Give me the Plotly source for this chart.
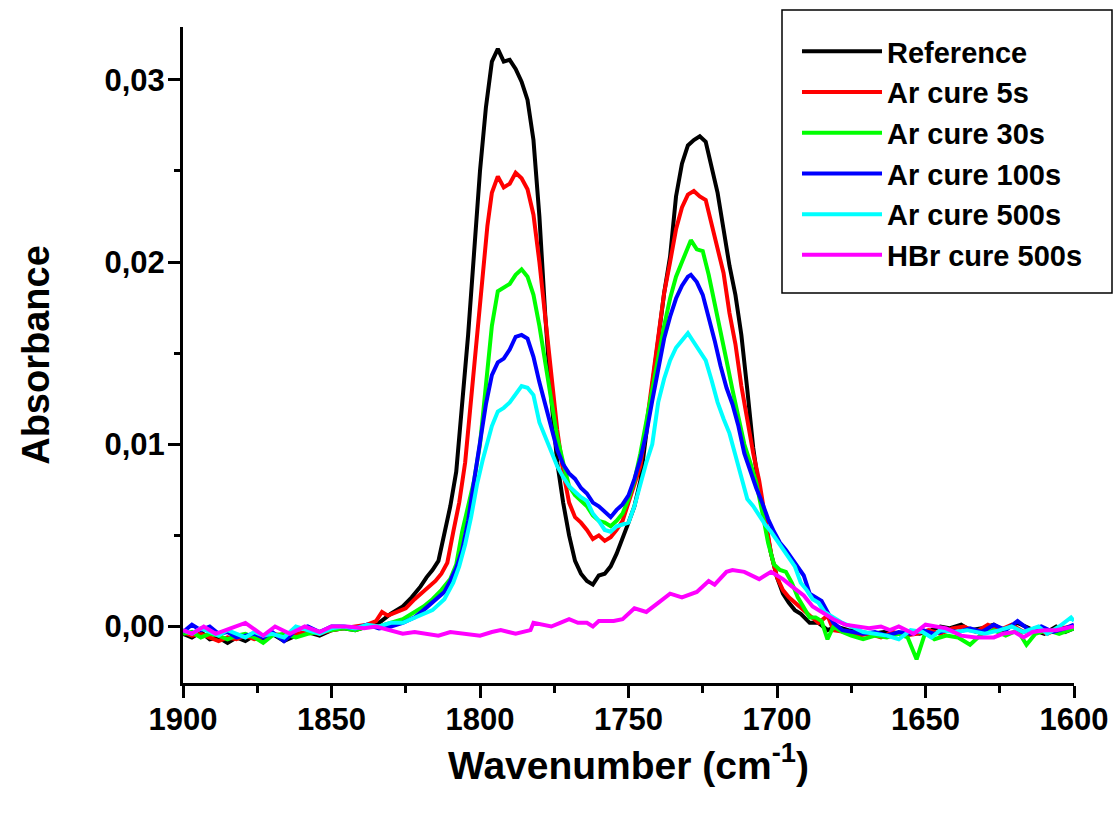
import plotly.graph_objects as go

names = ["Reference", "Ar cure 5s", "Ar cure 30s", "Ar cure 100s", "Ar cure 500s", "HBr cure 500s"]
colors = ["#000000", "#FF0000", "#00FF00", "#0000FF", "#00FFFF", "#FF00FF"]

ref_w = [1900, 1897, 1894, 1891, 1888, 1885, 1882, 1879, 1876, 1873, 1870, 1866, 1862, 1858, 1854, 1850,
         1846, 1842, 1838, 1834, 1830, 1826, 1823, 1820, 1818, 1816, 1814, 1812, 1810, 1808, 1806, 1804,
         1802, 1800, 1798, 1796, 1794, 1792, 1790, 1788, 1786, 1784, 1782, 1780, 1778, 1776, 1774, 1772,
         1770, 1768, 1766, 1764, 1762, 1760, 1758, 1756, 1754, 1752, 1750, 1748, 1746, 1744, 1742, 1740,
         1738, 1736, 1734, 1732, 1730, 1728, 1726, 1724, 1722, 1720, 1718, 1716, 1714, 1712, 1710, 1708,
         1706, 1704, 1702, 1700, 1698, 1696, 1694, 1692, 1689, 1686, 1683, 1680, 1676, 1672, 1668, 1664,
         1660, 1656, 1652, 1648, 1645, 1642, 1638, 1635, 1631, 1627, 1624, 1619, 1615, 1610, 1606, 1603, 1600]
ref_a = [-0.0004, -0.0006, -0.0003, -0.0007, -0.0006, -0.0009, -0.0006, -0.0008, -0.0005, -0.0007, -0.0004, -0.0008, -0.0005, -0.0003, -0.0005, -0.0002,
         -0.0001, -0.0002, 0.0000, 0.0002, 0.0007, 0.0011, 0.0016, 0.0022, 0.0027, 0.0031, 0.0036, 0.0050, 0.0066, 0.0085, 0.0120, 0.0160,
         0.0205, 0.0250, 0.0285, 0.0310, 0.0317, 0.0310, 0.0311, 0.0306, 0.0299, 0.0289, 0.0267, 0.0225, 0.0170, 0.0125, 0.0090, 0.0068,
         0.0050, 0.0036, 0.0029, 0.0025, 0.0023, 0.0028, 0.0029, 0.0033, 0.0040, 0.0048, 0.0057, 0.0066, 0.0080, 0.0106, 0.0133, 0.0160,
         0.0183, 0.0203, 0.0236, 0.0254, 0.0264, 0.0267, 0.0269, 0.0266, 0.0252, 0.0238, 0.0218, 0.0198, 0.0182, 0.0160, 0.0130, 0.0098,
         0.0075, 0.0056, 0.0040, 0.0027, 0.0018, 0.0013, 0.0009, 0.0007, 0.0002, 0.0002, -0.0002, 0.0000, -0.0002, -0.0003, -0.0004, -0.0003,
         -0.0004, -0.0003, -0.0004, -0.0002, 0.0000, -0.0001, 0.0001, -0.0002, -0.0001, 0.0001, -0.0002, 0.0002, -0.0001, -0.0004, 0.0000, -0.0003, -0.0001]

ar5_w = [1900, 1897, 1894, 1891, 1888, 1885, 1882, 1879, 1876, 1873, 1870, 1866, 1862, 1858, 1854, 1850,
         1846, 1842, 1838, 1835, 1833, 1831, 1828, 1825, 1822, 1819, 1817, 1815, 1813, 1811, 1809, 1807,
         1805, 1803, 1801, 1799, 1797.5, 1796, 1794, 1792, 1790, 1788, 1786, 1784, 1782, 1780, 1778, 1776,
         1774, 1772, 1770, 1768, 1766, 1764, 1762, 1760, 1758, 1756, 1754, 1752, 1750, 1748, 1746, 1744,
         1742, 1740, 1738, 1736, 1734, 1732, 1730, 1728, 1726, 1724, 1722, 1720, 1718, 1716, 1714, 1712,
         1710, 1708, 1706, 1704, 1702, 1700, 1698, 1696, 1694, 1692, 1689, 1686, 1683, 1681, 1677, 1673,
         1669, 1665, 1661, 1657, 1653, 1649, 1645, 1641, 1637, 1633, 1629, 1625, 1621, 1617, 1613, 1609, 1605, 1600]
ar5_a = [-0.0003, -0.0005, -0.0004, -0.0006, -0.0008, -0.0006, -0.0007, -0.0005, -0.0007, -0.0006, -0.0004, -0.0005, -0.0004, -0.0003, -0.0004, -0.0002,
         -0.0001, 0.0000, 0.0001, 0.0003, 0.0008, 0.0006, 0.0008, 0.0010, 0.0015, 0.0019, 0.0022, 0.0025, 0.0029, 0.0035, 0.0052, 0.0068,
         0.0090, 0.0125, 0.0160, 0.0195, 0.0220, 0.0238, 0.0247, 0.0241, 0.0243, 0.0249, 0.0246, 0.0240, 0.0226, 0.0200, 0.0168, 0.0135,
         0.0108, 0.0085, 0.0068, 0.0060, 0.0057, 0.0053, 0.0048, 0.0050, 0.0047, 0.0049, 0.0053, 0.0058, 0.0068, 0.0078, 0.0088, 0.0110,
         0.0135, 0.0160, 0.0183, 0.0200, 0.0218, 0.0230, 0.0237, 0.0239, 0.0236, 0.0234, 0.0220, 0.0206, 0.0194, 0.0172, 0.0155, 0.0132,
         0.0112, 0.0095, 0.0080, 0.0060, 0.0040, 0.0027, 0.0020, 0.0016, 0.0013, 0.0010, 0.0006, 0.0002, 0.0006, -0.0002, -0.0003, -0.0005,
         -0.0004, -0.0006, -0.0003, -0.0005, -0.0004, -0.0002, -0.0004, -0.0001, 0.0000, -0.0003, 0.0001, -0.0002, 0.0001, -0.0003, -0.0001, -0.0004, -0.0001, 0.0000]

ar30_w = [1900, 1897, 1894, 1891, 1888, 1885, 1882, 1879, 1876, 1873, 1870, 1866, 1862, 1858, 1854, 1850,
          1846, 1842, 1838, 1834, 1830, 1826, 1822, 1819, 1816, 1813, 1810, 1808, 1806, 1804, 1802, 1800,
          1798, 1796, 1794, 1792, 1790, 1788, 1786, 1784, 1782, 1780, 1778, 1776, 1774, 1772, 1770, 1768,
          1766, 1764, 1762, 1760, 1758, 1756, 1754, 1752, 1750, 1748, 1746, 1744, 1742, 1740, 1738, 1736,
          1734, 1732, 1730, 1729, 1727, 1725, 1723, 1721, 1719, 1717, 1715, 1713, 1711, 1709, 1707, 1705,
          1703, 1701, 1699, 1697, 1695, 1693, 1691, 1689, 1687, 1685, 1683, 1681, 1678, 1675, 1671, 1667,
          1663, 1659, 1656, 1653, 1650, 1647, 1643, 1639, 1635, 1631, 1627, 1623, 1619, 1616, 1613, 1609, 1605, 1600]
ar30_a = [-0.0004, -0.0003, -0.0006, -0.0004, -0.0005, -0.0007, -0.0005, -0.0004, -0.0006, -0.0009, -0.0005, -0.0004, -0.0006, -0.0004, -0.0003, -0.0002,
          -0.0001, -0.0002, 0.0000, 0.0000, 0.0002, 0.0004, 0.0008, 0.0011, 0.0015, 0.0020, 0.0026, 0.0034, 0.0052, 0.0065, 0.0080, 0.0100,
          0.0130, 0.0165, 0.0184, 0.0186, 0.0188, 0.0193, 0.0196, 0.0192, 0.0182, 0.0165, 0.0145, 0.0122, 0.0104, 0.0090, 0.0077, 0.0072,
          0.0069, 0.0066, 0.0061, 0.0058, 0.0057, 0.0055, 0.0058, 0.0062, 0.0070, 0.0080, 0.0095, 0.0113, 0.0132, 0.0148, 0.0165, 0.0180,
          0.0192, 0.0200, 0.0208, 0.0212, 0.0207, 0.0206, 0.0193, 0.0178, 0.0163, 0.0146, 0.0130, 0.0114, 0.0100, 0.0090, 0.0079, 0.0063,
          0.0046, 0.0034, 0.0031, 0.0030, 0.0024, 0.0016, 0.0010, 0.0005, 0.0005, 0.0003, -0.0007, 0.0000, -0.0003, -0.0005, -0.0007, -0.0005,
          -0.0006, -0.0004, -0.0006, -0.0018, -0.0003, -0.0007, -0.0005, -0.0006, -0.0010, -0.0004, -0.0002, -0.0005, -0.0002, -0.0010, -0.0004, -0.0002, -0.0004, -0.0001]

ar100_w = [1900, 1897, 1894, 1891, 1888, 1885, 1882, 1879, 1876, 1873, 1870, 1866, 1862, 1858, 1854, 1850,
           1846, 1842, 1838, 1834, 1830, 1826, 1822, 1819, 1816, 1812, 1810, 1808, 1806, 1804, 1802, 1800,
           1798, 1796, 1794, 1792, 1790, 1788, 1786, 1784, 1782, 1780, 1778, 1776, 1774, 1772, 1770, 1768,
           1766, 1764, 1762, 1760, 1758, 1756, 1754, 1752, 1750, 1748, 1746, 1744, 1742, 1740, 1738, 1736,
           1734, 1732, 1730, 1729, 1727, 1725, 1723, 1721, 1719, 1717, 1715, 1713, 1711, 1709, 1707, 1705,
           1703, 1701, 1699, 1697, 1695, 1693, 1691, 1689, 1687, 1685, 1683, 1681, 1678, 1675, 1671, 1667,
           1663, 1659, 1655, 1651, 1647, 1643, 1639, 1635, 1631, 1627, 1623, 1619, 1615, 1611, 1607, 1603, 1600]
ar100_a = [-0.0003, 0.0001, -0.0002, 0.0000, -0.0004, -0.0003, -0.0006, -0.0005, -0.0004, -0.0006, -0.0003, -0.0008, -0.0002, 0.0000, -0.0003, 0.0000,
           0.0000, -0.0001, 0.0001, -0.0001, 0.0000, 0.0002, 0.0005, 0.0009, 0.0013, 0.0019, 0.0025, 0.0032, 0.0042, 0.0058, 0.0080, 0.0100,
           0.0122, 0.0138, 0.0145, 0.0147, 0.0152, 0.0159, 0.0160, 0.0158, 0.0148, 0.0134, 0.0122, 0.0108, 0.0097, 0.0089, 0.0084, 0.0081,
           0.0076, 0.0073, 0.0068, 0.0066, 0.0063, 0.0060, 0.0064, 0.0067, 0.0072, 0.0081, 0.0092, 0.0106, 0.0124, 0.0142, 0.0158, 0.0170,
           0.0180, 0.0187, 0.0192, 0.0193, 0.0189, 0.0182, 0.0170, 0.0157, 0.0143, 0.0131, 0.0122, 0.0110, 0.0095, 0.0085, 0.0076, 0.0068,
           0.0059, 0.0052, 0.0046, 0.0042, 0.0037, 0.0033, 0.0028, 0.0018, 0.0016, 0.0014, 0.0008, 0.0002, -0.0002, -0.0003, -0.0004, -0.0003,
           -0.0005, -0.0003, -0.0004, -0.0002, -0.0004, -0.0002, -0.0003, -0.0001, -0.0003, 0.0001, -0.0002, 0.0003, -0.0002, 0.0000, -0.0003, -0.0001, 0.0001]

ar500_w = [1900, 1897, 1894, 1891, 1888, 1885, 1882, 1879, 1876, 1873, 1870, 1866, 1862, 1858, 1854, 1850,
           1846, 1842, 1838, 1834, 1830, 1826, 1822, 1819, 1816, 1812, 1809, 1807, 1805, 1803, 1801, 1799,
           1797, 1796, 1794, 1792, 1790, 1788, 1786, 1784, 1782, 1780, 1778, 1776, 1774, 1772, 1770, 1768,
           1766, 1764, 1762, 1760, 1758, 1756, 1754, 1752, 1750, 1748, 1746, 1744, 1742, 1740, 1738, 1736,
           1734, 1732, 1730, 1728, 1726, 1724, 1722, 1720, 1718, 1716, 1714, 1712, 1710, 1708, 1706, 1704,
           1702, 1700, 1698, 1696, 1694, 1692, 1690, 1688, 1686, 1684, 1681, 1678, 1675, 1671, 1667, 1663,
           1659, 1655, 1651, 1648, 1645, 1640, 1636, 1630, 1625, 1621, 1617, 1612, 1609, 1605, 1601, 1600]
ar500_a = [-0.0002, -0.0004, -0.0001, -0.0003, -0.0005, -0.0002, -0.0004, -0.0006, -0.0003, -0.0005, -0.0004, -0.0006, 0.0000, -0.0002, -0.0004, -0.0001,
           0.0000, -0.0001, 0.0001, 0.0000, 0.0002, 0.0002, 0.0005, 0.0007, 0.0009, 0.0015, 0.0024, 0.0033, 0.0045, 0.0060, 0.0078, 0.0092,
           0.0104, 0.0110, 0.0118, 0.0120, 0.0123, 0.0128, 0.0132, 0.0131, 0.0127, 0.0112, 0.0104, 0.0097, 0.0088, 0.0082, 0.0077, 0.0074,
           0.0071, 0.0069, 0.0062, 0.0058, 0.0053, 0.0052, 0.0055, 0.0056, 0.0057, 0.0066, 0.0079, 0.0090, 0.0100, 0.0123, 0.0136, 0.0146,
           0.0153, 0.0157, 0.0161, 0.0156, 0.0151, 0.0146, 0.0135, 0.0123, 0.0114, 0.0106, 0.0094, 0.0082, 0.0070, 0.0066, 0.0061, 0.0056,
           0.0052, 0.0047, 0.0042, 0.0038, 0.0033, 0.0024, 0.0020, 0.0015, 0.0013, 0.0008, 0.0005, 0.0002, 0.0000, -0.0003, -0.0004, -0.0005,
           -0.0007, -0.0002, -0.0003, -0.0006, -0.0002, -0.0003, -0.0002, -0.0004, -0.0002, 0.0000, -0.0003, 0.0000, -0.0004, 0.0000, 0.0005, 0.0003]

hbr_w = [1900, 1897, 1893, 1889, 1884, 1879, 1873, 1869, 1864, 1859, 1854, 1850, 1845, 1839, 1835, 1830,
         1826, 1822, 1818, 1814, 1810, 1805, 1800, 1796, 1793, 1788, 1785, 1783, 1782, 1779, 1776, 1773,
         1770, 1767, 1764, 1762, 1760, 1755, 1752, 1748, 1744, 1740, 1736, 1732, 1727, 1723, 1721, 1717,
         1715, 1711, 1706, 1702, 1698, 1695, 1691, 1688, 1684, 1681, 1677, 1673, 1669, 1665, 1662, 1659,
         1654, 1650, 1647, 1643, 1638, 1633, 1627, 1624, 1620, 1617, 1614, 1610, 1606, 1603, 1600]
hbr_a = [-0.0002, -0.0004, 0.0000, -0.0004, -0.0001, 0.0002, -0.0005, 0.0000, -0.0004, 0.0000, -0.0003, 0.0000, 0.0000, -0.0001, 0.0000, -0.0002,
         -0.0004, -0.0003, -0.0004, -0.0005, -0.0003, -0.0004, -0.0005, -0.0003, -0.0002, -0.0004, -0.0003, -0.0002, 0.0002, 0.0001, 0.0000, 0.0002,
         0.0004, 0.0002, 0.0002, 0.0000, 0.0003, 0.0003, 0.0004, 0.0010, 0.0008, 0.0013, 0.0018, 0.0016, 0.0019, 0.0025, 0.0023, 0.0030,
         0.0031, 0.0030, 0.0026, 0.0030, 0.0026, 0.0022, 0.0017, 0.0011, 0.0007, 0.0004, 0.0001, 0.0000, -0.0001, 0.0000, -0.0002, 0.0000,
         -0.0004, 0.0001, 0.0000, -0.0001, -0.0005, -0.0006, -0.0006, -0.0004, -0.0003, -0.0006, -0.0003, -0.0002, -0.0002, -0.0001, 0.0000]

series_w = [ref_w, ar5_w, ar30_w, ar100_w, ar500_w, hbr_w]
series_a = [ref_a, ar5_a, ar30_a, ar100_a, ar500_a, hbr_a]

x_ticks = [1900, 1850, 1800, 1750, 1700, 1650, 1600]
y_ticks = [0.00, 0.01, 0.02, 0.03]

FONT = "Liberation Sans, Arial, sans-serif"

fig = go.Figure()
for name, col, w, a in zip(names, colors, series_w, series_a):
    fig.add_trace(go.Scatter(x=w, y=a, mode="lines", name=name,
                             line=dict(color=col, width=4)))

axis_common = dict(showline=True, linecolor="black", linewidth=3, showgrid=False, zeroline=False,
                   ticks="outside", tickcolor="black", tickwidth=2.5, ticklen=12,
                   tickfont=dict(family=FONT, size=31, color="black", weight="bold"))

fig.update_layout(
    width=1115, height=813,
    margin=dict(l=183, r=41, t=27, b=130, autoexpand=False),
    plot_bgcolor="white", paper_bgcolor="white",
    separators=",.",
    font=dict(family=FONT, color="black"),
    xaxis=dict(range=[1900, 1600], tickvals=x_ticks,
               minor=dict(dtick=25, tick0=1600, ticks="outside", ticklen=7, tickwidth=2.5, tickcolor="black"),
               ticklabelstandoff=-5,
               title=dict(text="Wavenumber (cm<sup>-1</sup>)", font=dict(family=FONT, size=39, weight="bold"),
                          standoff=10),
               **axis_common),
    yaxis=dict(range=[-0.0031, 0.0329], tickvals=y_ticks, tickformat=".2f",
               minor=dict(dtick=0.005, tick0=0, ticks="outside", ticklen=6, tickwidth=2.5, tickcolor="black"),
               ticklabelstandoff=-3,
               title=dict(text="Absorbance", font=dict(family=FONT, size=38, weight="bold"), standoff=44),
               **axis_common),
    legend=dict(x=(797 - 183) / 891, y=(683 - 26) / 656, xanchor="left", yanchor="top",
                borderwidth=0, bgcolor="rgba(0,0,0,0)",
                font=dict(family=FONT, size=29, color="black", weight="bold"),
                itemwidth=80, tracegroupgap=0),
    shapes=[dict(type="rect", xref="paper", yref="paper",
                 x0=(782 - 183) / 891, x1=(1112 - 183) / 891,
                 y0=(683 - 293) / 656, y1=(683 - 10) / 656,
                 line=dict(color="black", width=1.5), fillcolor="rgba(0,0,0,0)", layer="above")],
)

fig.write_html("out.html", config={"displayModeBar": False},
               post_script="document.body.style.margin='0';document.body.style.overflow='hidden';")
